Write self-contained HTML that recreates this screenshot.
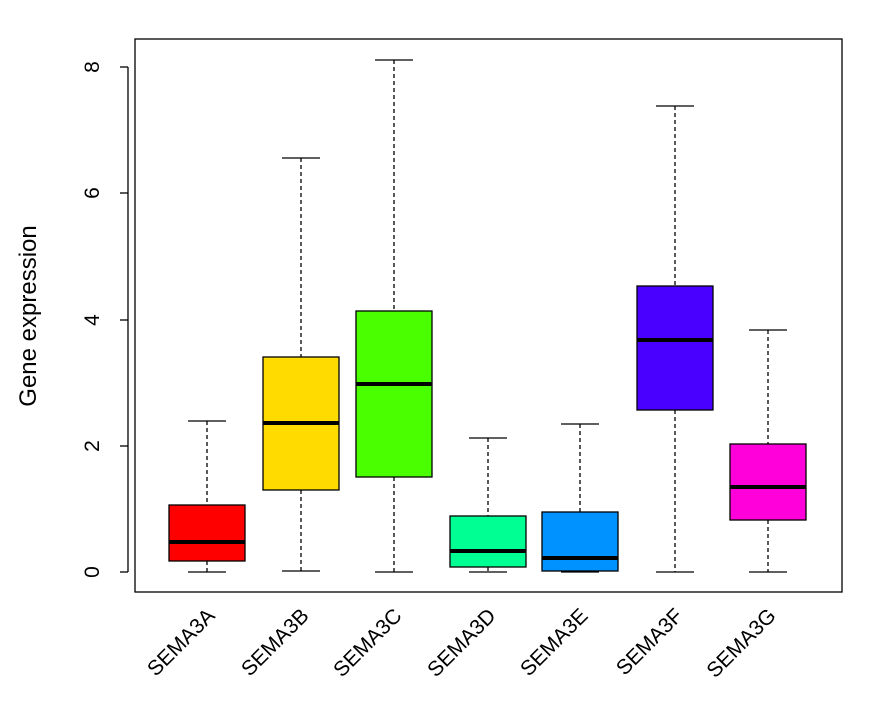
<!DOCTYPE html>
<html><head><meta charset="utf-8"><style>body{margin:0;background:#fff}</style></head>
<body>
<svg width="883" height="709" xmlns="http://www.w3.org/2000/svg" font-family="Liberation Sans, sans-serif">
<rect width="883" height="709" fill="#fff"/>
<g stroke="#000" stroke-width="1.3" fill="none">
<line x1="128" y1="67" x2="128" y2="572"/>
<line x1="120" y1="572" x2="128" y2="572"/>
<line x1="120" y1="446" x2="128" y2="446"/>
<line x1="120" y1="320" x2="128" y2="320"/>
<line x1="120" y1="193" x2="128" y2="193"/>
<line x1="120" y1="67" x2="128" y2="67"/>
<g stroke-dasharray="4,3">
<line x1="207" y1="421" x2="207" y2="505"/><line x1="207" y1="561" x2="207" y2="572"/>
<line x1="301" y1="158" x2="301" y2="357"/><line x1="301" y1="490" x2="301" y2="571"/>
<line x1="394" y1="60" x2="394" y2="311"/><line x1="394" y1="477" x2="394" y2="572"/>
<line x1="488" y1="438" x2="488" y2="516"/><line x1="488" y1="567" x2="488" y2="572"/>
<line x1="580" y1="424" x2="580" y2="512"/><line x1="580" y1="571" x2="580" y2="572"/>
<line x1="675" y1="106" x2="675" y2="286"/><line x1="675" y1="410" x2="675" y2="572"/>
<line x1="768" y1="330" x2="768" y2="444"/><line x1="768" y1="520" x2="768" y2="572"/>
</g>
<line x1="188" y1="421" x2="226" y2="421"/><line x1="188" y1="572" x2="226" y2="572"/>
<line x1="282" y1="158" x2="320" y2="158"/><line x1="282" y1="571" x2="320" y2="571"/>
<line x1="375" y1="60" x2="413" y2="60"/><line x1="375" y1="572" x2="413" y2="572"/>
<line x1="469" y1="438" x2="507" y2="438"/><line x1="469" y1="572" x2="507" y2="572"/>
<line x1="561" y1="424" x2="599" y2="424"/><line x1="561" y1="572" x2="599" y2="572"/>
<line x1="656" y1="106" x2="694" y2="106"/><line x1="656" y1="572" x2="694" y2="572"/>
<line x1="749" y1="330" x2="787" y2="330"/><line x1="749" y1="572" x2="787" y2="572"/>
<rect x="169" y="505" width="76" height="56" fill="#FF0000"/>
<rect x="263" y="357" width="76" height="133" fill="#FFDB00"/>
<rect x="356" y="311" width="76" height="166" fill="#49FF00"/>
<rect x="450" y="516" width="76" height="51" fill="#00FF92"/>
<rect x="542" y="512" width="76" height="59" fill="#0092FF"/>
<rect x="637" y="286" width="76" height="124" fill="#4900FF"/>
<rect x="730" y="444" width="76" height="76" fill="#FF00DB"/>
<g stroke-width="4">
<line x1="169" y1="542" x2="245" y2="542"/>
<line x1="263" y1="423" x2="339" y2="423"/>
<line x1="356" y1="384" x2="432" y2="384"/>
<line x1="450" y1="551" x2="526" y2="551"/>
<line x1="542" y1="558" x2="618" y2="558"/>
<line x1="637" y1="340" x2="713" y2="340"/>
<line x1="730" y1="487" x2="806" y2="487"/>
</g>
<rect x="135" y="39" width="707" height="553"/>
</g>
<g font-size="21" text-anchor="middle">
<text transform="translate(99,572) rotate(-90)">0</text>
<text transform="translate(99,446) rotate(-90)">2</text>
<text transform="translate(99,320) rotate(-90)">4</text>
<text transform="translate(99,193) rotate(-90)">6</text>
<text transform="translate(99,67) rotate(-90)">8</text>
<text transform="translate(36,316) rotate(-90)" font-size="24">Gene expression</text>
</g>
<g font-size="21" text-anchor="end">
<text transform="translate(216,617) rotate(-45)">SEMA3A</text>
<text transform="translate(310,617) rotate(-45)">SEMA3B</text>
<text transform="translate(403,617) rotate(-45)">SEMA3C</text>
<text transform="translate(497,617) rotate(-45)">SEMA3D</text>
<text transform="translate(589,617) rotate(-45)">SEMA3E</text>
<text transform="translate(684,617) rotate(-45)">SEMA3F</text>
<text transform="translate(777,617) rotate(-45)">SEMA3G</text>
</g>
</svg>
</body></html>
